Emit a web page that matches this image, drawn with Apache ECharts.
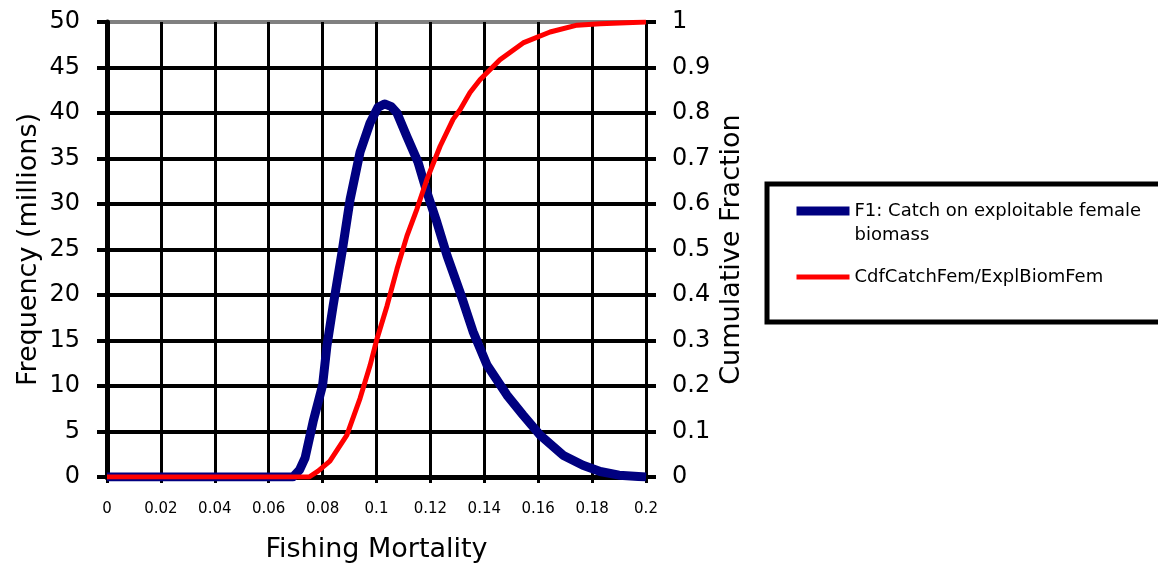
<!DOCTYPE html>
<html>
<head>
<meta charset="utf-8">
<script src="https://cdn.jsdelivr.net/npm/echarts@6/dist/echarts.min.js"></script>
<style>
html,body{margin:0;padding:0;background:#fff;}
#chart{width:1158px;height:568px;}
</style>
</head>
<body>
<div id="chart"></div>
<script>
// ---- data ----
const freqName = 'F1: Catch on exploitable female biomass';
const cdfName = 'CdfCatchFem/ExplBiomFem';

const freqX = [0, 0.02, 0.04, 0.06, 0.069, 0.0715, 0.0735, 0.0765, 0.0800, 0.0816, 0.0839, 0.0872, 0.0902, 0.0939, 0.0976, 0.1005, 0.1030, 0.1055, 0.1076, 0.1113, 0.1154, 0.1187, 0.1224, 0.1262, 0.1310, 0.1358, 0.1410, 0.1484, 0.1544, 0.1607, 0.1692, 0.1766, 0.1830, 0.1900, 0.2];
const freqY = [0, 0, 0, 0, 0, 0.8, 2.1, 6.1, 10.1, 14.4, 18.8, 24.7, 30.5, 35.7, 38.9, 40.6, 41.0, 40.7, 40.0, 37.4, 34.6, 31.3, 28.0, 24.3, 20.3, 16.0, 12.3, 9.0, 6.8, 4.6, 2.4, 1.3, 0.6, 0.2, 0];

const cdfX = [0, 0.02, 0.04, 0.06, 0.075, 0.0783, 0.0827, 0.0890, 0.0939, 0.0976, 0.1002, 0.1039, 0.1076, 0.1113, 0.1150, 0.1187, 0.1236, 0.1284, 0.1310, 0.1347, 0.1384, 0.1458, 0.1544, 0.1644, 0.1744, 0.1830, 0.2];
const cdfY = [0, 0, 0, 0, 0, 0.013, 0.035, 0.092, 0.173, 0.245, 0.304, 0.376, 0.457, 0.530, 0.589, 0.654, 0.727, 0.786, 0.807, 0.845, 0.873, 0.917, 0.954, 0.978, 0.993, 0.996, 1];

const xTicks = { min: 0, max: 0.2, interval: 0.02 };
const leftTicks = { min: 0, max: 50, interval: 5 };
const rightTicks = { min: 0, max: 1, interval: 0.1 };

const xTitle = 'Fishing Mortality';
const leftTitle = 'Frequency (millions)';
const rightTitle = 'Cumulative Fraction';

// ---- chart ----
const FONT = 'DejaVu Sans';
const chart = echarts.init(document.getElementById('chart'), null, { renderer: 'canvas' });

const hColors = [];
for (let i = 0; i < 10; i++) hColors.push('#000000');
hColors.push('#808080');

const option = {
  animation: false,
  backgroundColor: '#ffffff',
  grid: { left: 107, right: 512, top: 22, bottom: 89, containLabel: false },
  graphic: [{
    type: 'rect', z: 1,
    shape: { x: 767, y: 184, width: 420, height: 138 },
    style: { fill: '#ffffff', stroke: '#000000', lineWidth: 5 }
  }],
  legend: {
    z: 10,
    orient: 'vertical',
    left: 792, top: 175,
    padding: 0,
    itemGap: 18,
    itemWidth: 53, itemHeight: 14,
    textStyle: { fontFamily: FONT, fontSize: 18, color: '#000', lineHeight: 24 },
    formatter: function (n) {
      return n.indexOf(' biomass') >= 0 ? '\n' + n.replace(' biomass', '\nbiomass') : n;
    },
    data: [
      { name: freqName, itemStyle: { opacity: 0 }, lineStyle: { width: 9, color: '#000080' } },
      { name: cdfName, itemStyle: { opacity: 0 }, lineStyle: { width: 5, color: '#ff0000' } }
    ]
  },
  xAxis: {
    type: 'value',
    min: xTicks.min, max: xTicks.max, interval: xTicks.interval,
    name: xTitle, nameLocation: 'middle', nameGap: 59,
    nameTextStyle: { fontFamily: FONT, fontSize: 27, color: '#000' },
    axisLine: { show: true, lineStyle: { color: '#000', width: 5 } },
    axisTick: { show: true, length: 6, lineStyle: { color: '#000', width: 3 } },
    axisLabel: { fontFamily: FONT, fontSize: 15, color: '#000', margin: 25 },
    splitLine: { show: true, lineStyle: { color: '#000', width: 3 } }
  },
  yAxis: [{
    type: 'value', position: 'left',
    min: leftTicks.min, max: leftTicks.max, interval: leftTicks.interval,
    name: leftTitle, nameLocation: 'middle', nameGap: 65,
    nameTextStyle: { fontFamily: FONT, fontSize: 27, color: '#000' },
    axisLine: { show: true, lineStyle: { color: '#000', width: 5 } },
    axisTick: { show: true, length: 10, lineStyle: { color: '#000', width: 4 } },
    axisLabel: { fontFamily: FONT, fontSize: 24, color: '#000', margin: 27 },
    splitLine: { show: true, lineStyle: { color: hColors, width: 4 } }
  }, {
    type: 'value', position: 'right',
    min: rightTicks.min, max: rightTicks.max, interval: rightTicks.interval,
    name: rightTitle, nameLocation: 'middle', nameGap: 72, nameRotate: 90,
    nameTextStyle: { fontFamily: FONT, fontSize: 27, color: '#000' },
    axisLine: { show: true, lineStyle: { color: '#000', width: 3 } },
    axisTick: { show: true, length: 10, lineStyle: { color: '#000', width: 4 } },
    axisLabel: { fontFamily: FONT, fontSize: 24, color: '#000', margin: 26 },
    splitLine: { show: false }
  }],
  series: [{
    name: freqName, type: 'line', yAxisIndex: 0,
    data: freqX.map((x, i) => [x, freqY[i]]),
    symbol: 'none', smooth: false,
    lineStyle: { color: '#000080', width: 9, join: 'round' },
    itemStyle: { color: '#000080' },
    z: 3
  }, {
    name: cdfName, type: 'line', yAxisIndex: 1,
    data: cdfX.map((x, i) => [x, cdfY[i]]),
    symbol: 'none', smooth: false,
    lineStyle: { color: '#ff0000', width: 5, join: 'round' },
    itemStyle: { color: '#ff0000' },
    z: 4
  }]
};
chart.setOption(option);
</script>
</body>
</html>
